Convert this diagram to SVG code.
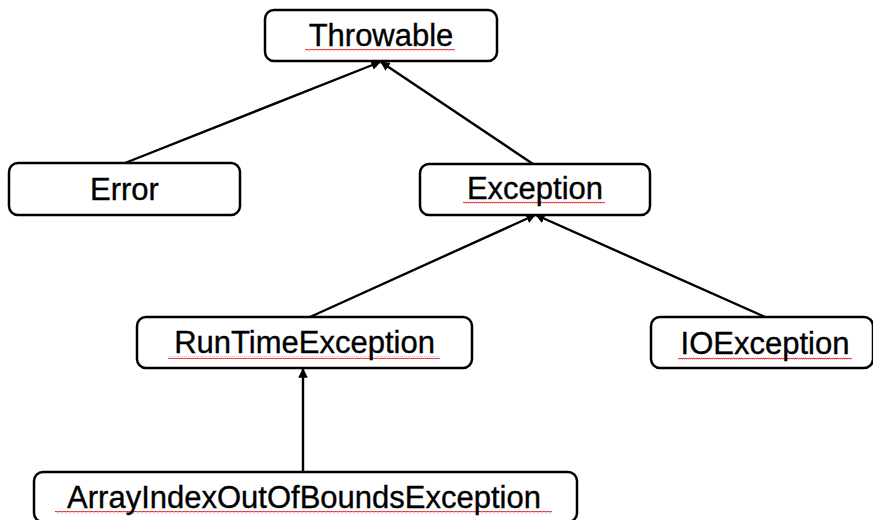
<svg xmlns="http://www.w3.org/2000/svg" width="873" height="520" viewBox="0 0 873 520">
<style>
.box{fill:#fff;stroke:#000;stroke-width:2.5}
.lbl{font-family:"Liberation Sans",Arial,sans-serif;font-size:31px;fill:#000;stroke:#000;stroke-width:0.35;text-anchor:middle}
.edge{stroke:#000;stroke-width:2.4;fill:none}
.sq{fill:url(#wave)}
</style>
<defs>
<marker id="ah" viewBox="0 0 10 10" refX="9" refY="5" markerWidth="4" markerHeight="4" orient="auto" markerUnits="strokeWidth">
<path d="M0,0 L10,5 L0,10 Z" fill="#000"/>
</marker>
<pattern id="wave" width="4" height="3" patternUnits="userSpaceOnUse">
<path d="M0,2.5 Q1,0 2,1.5 T4,1" fill="none" stroke="#e02020" stroke-width="1"/>
</pattern>
</defs>
<rect width="873" height="520" fill="#fff"/>
<g id="connectors">
<line class="edge" x1="125" y1="163" x2="380" y2="62" marker-end="url(#ah)"/>
<line class="edge" x1="533" y1="164" x2="381" y2="62" marker-end="url(#ah)"/>
<line class="edge" x1="310" y1="317" x2="535" y2="215" marker-end="url(#ah)"/>
<line class="edge" x1="765" y1="317" x2="536" y2="215" marker-end="url(#ah)"/>
<line class="edge" x1="303" y1="472" x2="303" y2="369" marker-end="url(#ah)"/>
</g>
<g id="throwable">
<rect class="box" x="265" y="10" width="232" height="51" rx="9"/>
<rect class="sq" x="305" y="49" width="150" height="3"/>
<text class="lbl" x="381" y="46">Throwable</text>
</g>
<g id="error">
<rect class="box" x="9" y="163" width="231" height="52" rx="9"/>
<text class="lbl" x="124.5" y="200">Error</text>
</g>
<g id="exception">
<rect class="box" x="420" y="164" width="230" height="51" rx="9"/>
<rect class="sq" x="463" y="201" width="142" height="3"/>
<text class="lbl" x="535" y="199">Exception</text>
</g>
<g id="runtimeexception">
<rect class="box" x="137" y="317" width="335" height="51" rx="9"/>
<rect class="sq" x="168" y="356" width="272" height="3"/>
<text class="lbl" x="304.5" y="353">RunTimeException</text>
</g>
<g id="ioexception">
<rect class="box" x="651" y="317" width="222" height="51" rx="9"/>
<rect class="sq" x="678" y="357" width="174" height="3"/>
<text class="lbl" x="765" y="354">IOException</text>
</g>
<g id="arrayindexoutofboundsexception">
<rect class="box" x="34" y="472" width="543" height="50" rx="9"/>
<rect class="sq" x="55" y="511" width="497" height="3"/>
<text class="lbl" x="304" y="508">ArrayIndexOutOfBoundsException</text>
</g>
</svg>
